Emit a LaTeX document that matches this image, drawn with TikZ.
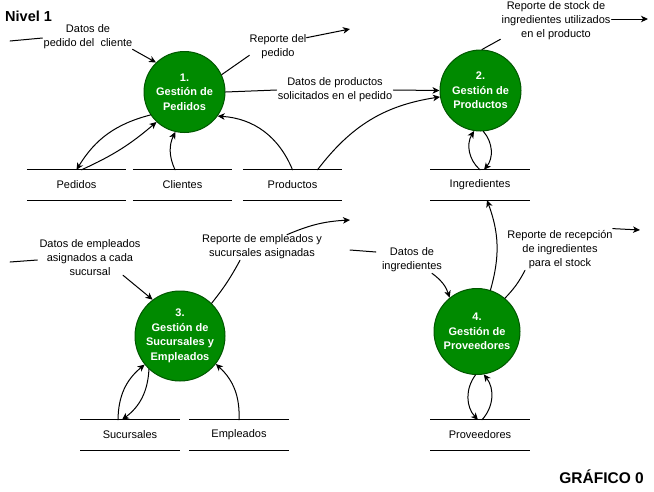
\documentclass[tikz,border=0pt]{standalone}
\usepackage{fontspec}
\setmainfont{Liberation Sans}
\usetikzlibrary{arrows.meta}
\definecolor{pfill}{HTML}{008A00}
\definecolor{pline}{HTML}{005700}
\begin{document}
\begin{tikzpicture}[x=1pt,y=-1pt,
  proc/.style={circle,fill=pfill,draw=pline,line width=1pt,text=white,align=center,inner sep=0pt,
    font=\bfseries\fontsize{11}{14.5}\selectfont},
  store/.style={minimum width=99pt,minimum height=30pt,inner sep=0pt,font=\fontsize{11}{14}\selectfont},
  lbl/.style={align=center,inner sep=0pt,font=\fontsize{11}{14}\selectfont},
  flow/.style={line width=1pt,line cap=round},
  arr/.style={flow,-{Stealth[length=7pt,width=6.5pt,inset=2pt]}}]
\useasboundingbox (0,0) rectangle (654,491);

% titles
\node[anchor=west,inner sep=0pt,font=\bfseries\fontsize{14.5}{16}\selectfont] (nivel) at (5,16) {Nivel 1};
\node[anchor=east,inner sep=0pt,font=\bfseries\fontsize{15.5}{17}\selectfont] (graf) at (644,477) {GRÁFICO 0};

% processes
\node[proc,minimum size=81pt] (c1) at (184.5,92) {1.\\Gestión de\\Pedidos};
\node[proc,minimum size=81pt] (c2) at (480.5,90.5) {2.\\Gestión de\\Productos};
\node[proc,minimum size=90pt] (c3) at (180,336) {3.\\Gestión de\\Sucursales y\\Empleados};
\node[proc,minimum size=86pt] (c4) at (477,331.5) {4.\\Gestión de\\Proveedores};

% stores
\node[store] (ped) at (76.5,185) {Pedidos};
\node[store] (cli) at (182.5,185) {Clientes};
\node[store] (prod) at (292.5,185) {Productos};
\node[store] (ing) at (480,185) {Ingredientes};
\node[store] (suc) at (130,435) {Sucursales};
\node[store] (emp) at (239,435) {Empleados};
\node[store] (prov) at (480,435) {Proveedores};
\foreach \s in {ped,cli,prod,ing,suc,emp,prov}{
  \draw[line width=1pt] (\s.north west) -- (\s.north east);
  \draw[line width=1pt] (\s.south west) -- (\s.south east);
}

% labels
\node[lbl] (l1) at (88,37) {Datos de\\pedido del\ \ cliente};
\node[lbl] (l2) at (278,47) {Reporte del\\pedido};
\node[lbl] (l3) at (335,90) {Datos de productos\\solicitados en el pedido};
\node[lbl] (l4) at (556,21) {Reporte de stock de\\ingredientes utilizados\\en el producto};
\node[lbl] (l5) at (90,258) {Datos de empleados\\asignados a cada\\sucursal};
\node[lbl] (l6) at (262,247) {Reporte de empleados y\\sucursales asignadas};
\node[lbl] (l7) at (412,260) {Datos de\\ingredientes};
\node[lbl] (l8) at (560,250) {Reporte de recepción\\de ingredientes\\para el stock};

% free ends
\coordinate (s1) at (10,41);
\coordinate (e2) at (350,29);
\coordinate (e4) at (648,19);
\coordinate (s5) at (10,262);
\coordinate (e6) at (350,220);
\coordinate (s7) at (350,250);
\coordinate (e8) at (640,230);

% process 1
\draw[flow] (s1) -- ([xshift=-1pt,yshift=-1pt]l1.west);
\draw[arr] (l1.south east) -- (c1.134);
\draw[flow] (c1.25) -- ([yshift=4pt]l2.south west);
\draw[arr] ([yshift=-3pt]l2.north east) -- (e2);
\draw[flow] (c1.east) -- ([xshift=-1pt]l3.west);
\draw[arr] ([xshift=1pt]l3.east) -- (c2.west);
\draw[arr] (c1.214) to[bend right=22] (ped.north);
\draw[arr] ([xshift=5pt]ped.north) to[bend right=8] (c1.227);
\draw[arr] ([xshift=-7.5pt]cli.north) to[bend left=25] (c1.257);
\draw[arr] (prod.north) to[bend right=32] (c1.324);
\draw[arr] ([xshift=25pt]prod.north) to[bend left=22] (c2.189);

% process 2
\draw[flow] (c2.88) -- ([xshift=-1pt,yshift=1pt]l4.south west);
\draw[arr] ([xshift=1pt,yshift=2pt]l4.east) -- (e4);
\draw[arr] (ing.north) to[bend left=40] (c2.261);
\draw[arr] (c2.274) to[bend left=40] ([xshift=4pt]ing.north);

% process 3
\draw[flow] (s5) -- ([xshift=-2pt,yshift=-2pt]l5.west);
\draw[arr] ([xshift=33pt,yshift=1pt]l5.south) -- (c3.127);
\draw[flow] (c3.46) to[bend right=5] ([xshift=-22pt,yshift=-1pt]l6.south);
\draw[arr] ([xshift=25pt]l6.north) to[bend left=10] (e6);
\draw[arr] ([xshift=-12pt]suc.north) to[bend left=25] (c3.219);
\draw[arr] (c3.227) to[bend left=25] ([xshift=-8pt]suc.north);
\draw[arr] (emp.north) to[bend right=25] (c3.322);

% process 4
\draw[arr] (c4.72) to[bend right=18] ([xshift=7pt]ing.south);
\draw[flow] (s7) -- ([xshift=-6pt,yshift=8pt]l7.west);
\draw[arr] ([xshift=20pt,yshift=-1pt]l7.south) to[bend left=18] (c4.129);
\draw[flow] (c4.50) to[bend right=8] ([xshift=-35pt,yshift=-1pt]l8.south);
\draw[arr] ([yshift=2pt]l8.north east) -- (e8);
\draw[arr] (c4.268) to[bend right=40] ([xshift=-2pt]prov.north);
\draw[arr] ([xshift=2pt]prov.north) to[bend right=40] (c4.279);
\end{tikzpicture}
\end{document}
